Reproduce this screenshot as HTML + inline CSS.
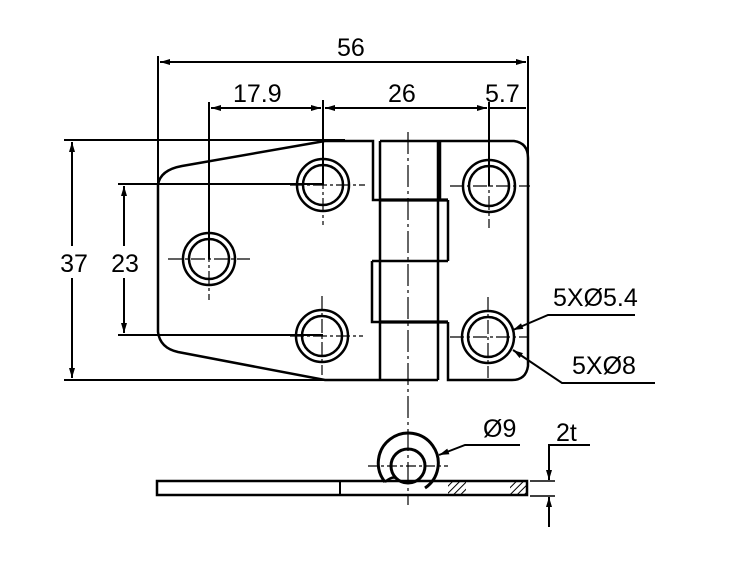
<!DOCTYPE html><html><head><style>body{margin:0;background:#fff}svg{display:block}text{font-family:"Liberation Sans",sans-serif;fill:#000}</style></head><body>
<svg width="733" height="579" viewBox="0 0 733 579" xmlns="http://www.w3.org/2000/svg">
<defs><marker id="a" viewBox="0 0 10 6" refX="10" refY="3" markerWidth="11" markerHeight="6" orient="auto-start-reverse" markerUnits="userSpaceOnUse"><path d="M0 0L10 3L0 6z"/></marker>
<pattern id="h" width="5" height="5" patternUnits="userSpaceOnUse" patternTransform="rotate(45)"><line x1="0" y1="0" x2="0" y2="5" stroke="#000" stroke-width="2"/></pattern></defs>
<g fill="none" stroke="#000" stroke-width="2">
<line x1="158" y1="56" x2="158" y2="183"/><line x1="528" y1="56" x2="528" y2="160"/>
<line x1="160" y1="62" x2="526" y2="62" marker-start="url(#a)" marker-end="url(#a)"/>
<line x1="209" y1="102" x2="209" y2="259"/><line x1="323" y1="100" x2="323" y2="185"/><line x1="489" y1="102" x2="489" y2="186"/>
<line x1="211" y1="108" x2="321" y2="108" marker-start="url(#a)" marker-end="url(#a)"/>
<line x1="325" y1="108" x2="487" y2="108" marker-start="url(#a)" marker-end="url(#a)"/>
<line x1="489" y1="108" x2="526" y2="108"/>
<line x1="64" y1="140" x2="345" y2="140"/><line x1="64" y1="380" x2="330" y2="380"/>
<line x1="72" y1="246" x2="72" y2="142" marker-end="url(#a)"/><line x1="72" y1="278" x2="72" y2="378" marker-end="url(#a)"/>
<line x1="118" y1="184" x2="323" y2="184"/><line x1="118" y1="335" x2="323" y2="335"/>
<line x1="124" y1="246" x2="124" y2="186" marker-end="url(#a)"/><line x1="124" y1="278" x2="124" y2="333" marker-end="url(#a)"/>
<g stroke-width="2.5">
<path d="M325 141L373 141L373 200L380 200M182 166L325 141M158 185Q160 170 182 166M158 185L158 332Q160 348 178 352L325 380L438 380M372 261L372 322L438 322M372 261L438 261"/>
<line x1="380" y1="141" x2="380" y2="380"/><line x1="438" y1="141" x2="438" y2="380"/>
<line x1="380" y1="200" x2="448" y2="200" stroke-width="3.2"/><line x1="448" y1="200" x2="448" y2="261"/><line x1="438" y1="261" x2="448" y2="261"/>
<line x1="380" y1="322" x2="448" y2="322" stroke-width="3.2"/>
<path d="M380 141L514 141Q528 143 528 158L528 366Q526 380 512 380L448 380L448 322"/>
<line x1="440" y1="141" x2="440" y2="200"/>
<circle cx="323" cy="185" r="26"/><circle cx="323" cy="185" r="20"/>
<circle cx="489" cy="186" r="26"/><circle cx="489" cy="186" r="20"/>
<circle cx="209" cy="259" r="26"/><circle cx="209" cy="259" r="20"/>
<circle cx="322" cy="336" r="26"/><circle cx="322" cy="336" r="20"/>
<circle cx="488" cy="337" r="26"/><circle cx="488" cy="337" r="20"/></g>
<g stroke-width="1.2" stroke-dasharray="14 3 3 3">
<line x1="290" y1="185" x2="365" y2="185"/><line x1="323" y1="152" x2="323" y2="225"/>
<line x1="450" y1="186" x2="530" y2="186"/><line x1="489" y1="150" x2="489" y2="228"/>
<line x1="168" y1="259" x2="250" y2="259"/><line x1="209" y1="225" x2="209" y2="300"/>
<line x1="290" y1="336" x2="363" y2="336"/><line x1="322" y1="296" x2="322" y2="375"/>
<line x1="450" y1="337" x2="528" y2="337"/><line x1="488" y1="297" x2="488" y2="378"/>
<line x1="408" y1="132" x2="408" y2="505" stroke-dasharray="22 4 3 4"/></g>
<polyline points="635,315 548,315 513,330" marker-end="url(#a)"/>
<polyline points="655,383 562,383 513,350" marker-end="url(#a)"/>
<rect x="157" y="481" width="370" height="14" stroke-width="2.5"/>
<line x1="340" y1="481" x2="340" y2="495"/>
<rect x="448" y="482" width="18" height="12" fill="url(#h)" stroke="none"/>
<rect x="510" y="482" width="16" height="12" fill="url(#h)" stroke="none"/>
<path d="M385 482A30 30 0 1 1 425 488" stroke-width="3"/>
<path d="M385 482Q392 476 396 478" stroke-width="2.4"/>
<circle cx="408" cy="466" r="17" stroke-width="3"/>
<line x1="368" y1="466" x2="448" y2="466" stroke-width="1.2" stroke-dasharray="10 3 3 3"/>
<polyline points="520,445 465,445 439,455" marker-end="url(#a)"/>
<line x1="530" y1="481" x2="555" y2="481" stroke-width="1.4"/><line x1="530" y1="496" x2="555" y2="496" stroke-width="1.4"/>
<polyline points="590,445 549,445 549,480" marker-end="url(#a)"/>
<line x1="549" y1="527" x2="549" y2="497" marker-end="url(#a)"/>
</g>
<g font-size="25">
<text x="337" y="56">56</text><text x="233" y="102">17.9</text><text x="388" y="102">26</text><text x="485" y="102">5.7</text>
<text x="74" y="272" text-anchor="middle">37</text><text x="125" y="272" text-anchor="middle">23</text>
<text x="553" y="306">5XØ5.4</text><text x="572" y="374">5XØ8</text>
<text x="483" y="437">Ø9</text><text x="556" y="441">2t</text>
</g>
</svg></body></html>
